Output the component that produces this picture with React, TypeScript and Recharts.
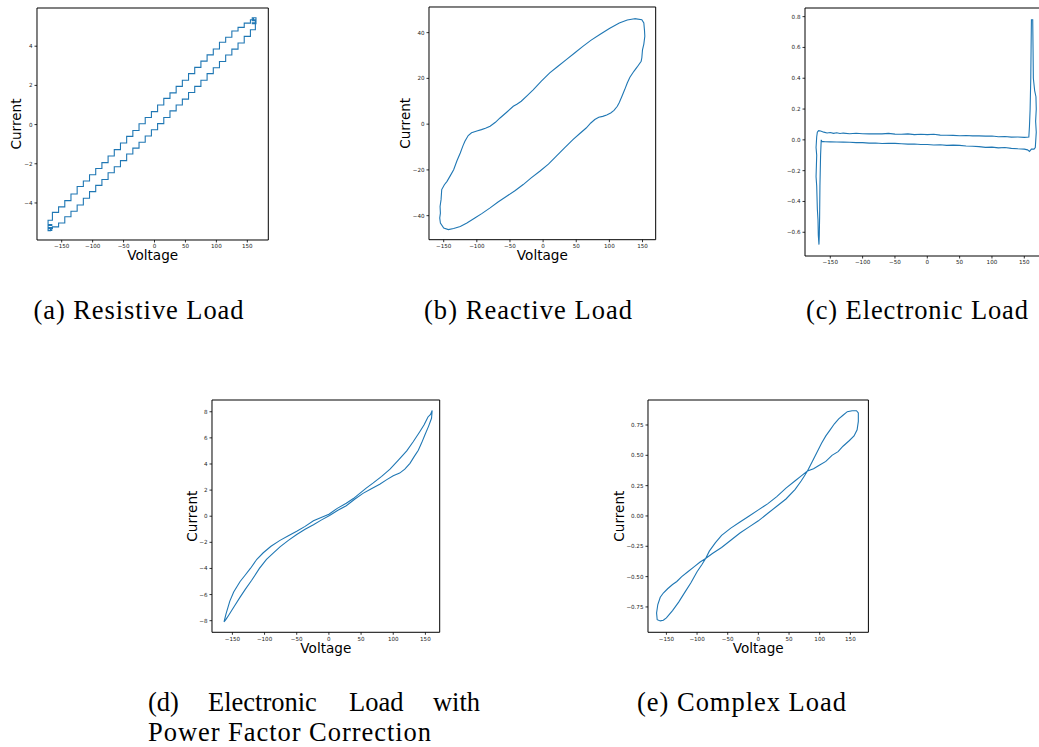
import React from 'react'
import { LineChart, Line, XAxis, YAxis, ReferenceArea } from 'recharts'

type Pt = [number, number] // [voltage, current]

const voltageTicks = [-150, -100, -50, 0, 50, 100, 150]

// (a) resistive load: two stepped branches and the jitter blobs at the ends
const resistiveRise: Pt[] = [
    [-172, -5.3], [-165, -5.22], [-155, -5.02], [-145, -4.7], [-135, -4.42], [-125, -4.1],
    [-115, -3.76], [-105, -3.42], [-95, -3.1], [-85, -2.8], [-75, -2.46], [-65, -2.15],
    [-55, -1.84], [-45, -1.5], [-35, -1.2], [-25, -0.9], [-15, -0.58], [-5, -0.26],
    [5, 0.05], [15, 0.36], [25, 0.7], [35, 1.0], [45, 1.3], [55, 1.64], [65, 1.95],
    [75, 2.26], [85, 2.6], [95, 2.9], [105, 3.22], [115, 3.55], [125, 3.85], [135, 4.16],
    [145, 4.5], [155, 4.84], [163, 5.3],
]
const resistiveTopCap: Pt[] = [[158, 5.45], [164, 5.15], [158, 5.2], [164, 5.45], [160, 5.3]]
const resistiveFall: Pt[] = [
    [163, 5.35], [155, 5.18], [145, 4.96], [135, 4.78], [125, 4.46], [115, 4.2],
    [105, 3.86], [95, 3.56], [85, 3.24], [75, 2.92], [65, 2.6], [55, 2.26], [45, 1.95],
    [35, 1.62], [25, 1.34], [15, 1.0], [5, 0.66], [-5, 0.36], [-15, 0.04], [-25, -0.3],
    [-35, -0.6], [-45, -0.94], [-55, -1.28], [-65, -1.6], [-75, -1.94], [-85, -2.24],
    [-95, -2.56], [-105, -2.88], [-115, -3.16], [-125, -3.54], [-135, -3.88], [-145, -4.2],
    [-155, -4.48], [-165, -4.88], [-172, -5.25],
]
const resistiveBottomCap: Pt[] = [[-166, -5.4], [-172, -5.1], [-166, -5.15], [-172, -5.42], [-168, -5.3]]
const resistiveTicks = [-4, -2, 0, 2, 4]

// (b) reactive load
const reactiveLoop: Pt[] = [
    [138, 46.1], [149, 45.6], [152, 44.2], [153, 41], [153.5, 38.4], [152, 35], [150, 32.5],
    [149, 29], [148, 27.5], [142, 25], [137, 23.1], [131, 20.5], [127, 18], [123, 15],
    [119, 12.2], [115, 9.5], [112, 7.8], [107, 6], [102, 4.9], [96, 4], [90, 3.4], [84, 3],
    [78, 2], [72, 0.5], [65, -1.7], [55, -4.2], [45, -6.8], [32, -10.5], [20, -14],
    [8, -17.5], [-5, -20.6], [-18, -23.5], [-30, -26.4], [-42, -29], [-55, -31.5],
    [-68, -34], [-80, -36.6], [-92, -39], [-103, -41], [-115, -43.2], [-125, -44.7],
    [-135, -45.6], [-143, -46.1], [-150, -45.4], [-155, -43.2], [-156, -41], [-155, -38.9],
    [-155.5, -36], [-154, -33], [-153, -28.6], [-149, -26.5], [-145, -25], [-140, -22.5],
    [-135, -19.9], [-130, -16], [-125, -12.6], [-121, -9.5], [-118, -7.5], [-113, -5],
    [-108, -3.8], [-100, -3], [-93, -2.4], [-87, -1.8], [-80, -0.9], [-72, 0.8], [-65, 2.7],
    [-55, 5.2], [-45, 7.8], [-39, 8.8], [-33, 10], [-24, 12.5], [-15, 15], [-3, 18.7],
    [10, 22.4], [22, 25.2], [35, 28.2], [48, 31.2], [60, 34], [72, 36.6], [85, 39.1],
    [100, 41.8], [115, 44.2], [127, 45.5], [138, 46.1],
]
const reactiveTicks = [-40, -20, 0, 20, 40]

// (c) electronic load
const electronicLoop: Pt[] = [
    [-170, 0.05], [-168, 0.06], [-165, 0.058], [-160, 0.05], [-155, 0.045], [-150, 0.048],
    [-145, 0.042], [-140, 0.046], [-135, 0.041], [-130, 0.044], [-120, 0.04], [-110, 0.043],
    [-100, 0.04], [-90, 0.039], [-80, 0.04], [-70, 0.039], [-60, 0.042], [-50, 0.037],
    [-40, 0.036], [-30, 0.039], [-20, 0.034], [-10, 0.036], [0, 0.034], [10, 0.036],
    [20, 0.031], [30, 0.03], [40, 0.029], [50, 0.027], [60, 0.028], [70, 0.026], [80, 0.026],
    [90, 0.024], [100, 0.025], [110, 0.02], [120, 0.022], [130, 0.018], [140, 0.019],
    [150, 0.016], [157, 0.018], [158, 0.09], [159, 0.2], [160, 0.4], [160.5, 0.6], [161, 0.78],
    [163, 0.78], [163.5, 0.6], [164, 0.4], [166, 0.32], [168, 0.28], [168.5, 0.2], [167.5, 0.12],
    [168.5, 0.05], [167, -0.05], [165, -0.06], [161, -0.06], [158, -0.075], [155, -0.065],
    [150, -0.06], [140, -0.058], [130, -0.055], [120, -0.05], [110, -0.052], [100, -0.047],
    [90, -0.049], [80, -0.044], [70, -0.042], [60, -0.04], [50, -0.036], [40, -0.034],
    [30, -0.036], [20, -0.032], [10, -0.033], [0, -0.03], [-10, -0.03], [-20, -0.027],
    [-30, -0.028], [-40, -0.025], [-50, -0.023], [-60, -0.022], [-70, -0.024], [-80, -0.02],
    [-90, -0.021], [-100, -0.018], [-110, -0.018], [-120, -0.016], [-130, -0.015],
    [-140, -0.014], [-150, -0.013], [-158, -0.012], [-163, -0.01], [-164, 0.0], [-165, -0.1],
    [-166, -0.3], [-166.5, -0.5], [-167, -0.62], [-167.5, -0.68], [-168.5, -0.62],
    [-169, -0.52], [-170, -0.45], [-171, -0.3], [-172, -0.24], [-171, -0.1], [-172, -0.05],
    [-171, 0.02], [-170, 0.05],
]
const electronicTicks = [-0.6, -0.4, -0.2, 0, 0.2, 0.4, 0.6, 0.8]

// (d) electronic load with PFC
const pfcRise: Pt[] = [
    [-163, -8.1], [-160, -7.5], [-157, -7.0], [-154, -6.5], [-148, -5.8], [-143, -5.4],
    [-138, -5.0], [-130, -4.5], [-122, -4.0], [-112, -3.3], [-102, -2.8], [-90, -2.3],
    [-76, -1.85], [-63, -1.5], [-50, -1.15], [-37, -0.78], [-24, -0.35], [-12, -0.1],
    [0, 0.15], [13, 0.6], [27, 1.0], [38, 1.35], [48, 1.75], [58, 2.15], [69, 2.55],
    [82, 3.05], [95, 3.6], [108, 4.3], [121, 5.0], [131, 5.7], [141, 6.45], [148, 7.0],
    [154, 7.6], [158, 7.8], [160.5, 8.1],
]
const pfcFall: Pt[] = [
    [160.5, 8.1], [159.5, 7.5], [155, 6.9], [149, 6.2], [144, 5.6], [139, 5.05], [133, 4.6],
    [126, 4.05], [118, 3.6], [110, 3.3], [100, 3.1], [90, 2.8], [79, 2.45], [66, 2.1],
    [53, 1.75], [40, 1.3], [27, 0.8], [14, 0.45], [1, 0.05], [-12, -0.3], [-24, -0.65],
    [-37, -1.0], [-50, -1.4], [-63, -1.85], [-76, -2.35], [-87, -2.85], [-97, -3.3],
    [-108, -4.0], [-120, -4.9], [-130, -5.6], [-138, -6.2], [-147, -6.9], [-156, -7.6],
    [-160, -7.9], [-163, -8.1],
]
const pfcTicks = [-8, -6, -4, -2, 0, 2, 4, 6, 8]

// (e) complex load, figure-eight
const complexLoop: Pt[] = [
    [153, 0.868], [145, 0.86], [138, 0.83], [131, 0.8], [124, 0.76], [117, 0.71], [110, 0.66],
    [103, 0.6], [96, 0.53], [89, 0.46], [84, 0.41], [80, 0.37], [75, 0.33], [70, 0.29],
    [60, 0.22], [45, 0.14], [30, 0.08], [15, 0.02], [0, -0.04], [-15, -0.09], [-30, -0.14],
    [-45, -0.2], [-60, -0.26], [-75, -0.31], [-86, -0.35], [-95, -0.38], [-105, -0.42],
    [-115, -0.46], [-125, -0.5], [-133, -0.54], [-140, -0.565], [-148, -0.6], [-155, -0.635],
    [-160, -0.67], [-164, -0.73], [-166, -0.8], [-165, -0.855], [-160, -0.865], [-155, -0.86],
    [-150, -0.84], [-140, -0.78], [-130, -0.71], [-120, -0.63], [-110, -0.55], [-100, -0.46],
    [-92, -0.4], [-86, -0.35], [-80, -0.29], [-70, -0.22], [-60, -0.16], [-45, -0.1],
    [-30, -0.05], [-15, 0.0], [0, 0.05], [15, 0.1], [30, 0.16], [45, 0.23], [60, 0.29],
    [70, 0.33], [80, 0.37], [90, 0.39], [100, 0.42], [110, 0.45], [120, 0.5], [130, 0.53],
    [138, 0.575], [148, 0.62], [156, 0.66], [161, 0.71], [163, 0.78], [163, 0.85],
    [160, 0.868], [153, 0.868],
]
const complexTicks = [-0.75, -0.5, -0.25, 0, 0.25, 0.5, 0.75]

const BLUE = '#1f77b4'
const AXIS_W = 48
const AXIS_H = 24
const PAD = 5
const SANS = '"DejaVu Sans", sans-serif'

const minus = (s: string) => s.replace('-', '\u2212')

type PanelProps = {
    x: number
    y: number
    w: number
    h: number
    xDomain: [number, number]
    yDomain: [number, number]
    yTicks: number[]
    yDigits?: number
    points: Pt[]
    curve?: 'linear' | 'stepAfter'
    titleX?: number // page x of the "Current" title; no axis titles when undefined
}

function Panel({ x, y, w, h, xDomain, yDomain, yTicks, yDigits, points, curve = 'linear', titleX }: PanelProps) {
    const data = points.map(([v, i]) => ({ v, i }))
    const tickStyle = { fontSize: 5.6, fill: '#222', fontFamily: SANS }
    const tickLine = { stroke: '#000', strokeWidth: 0.8 }
    const chartLeft = x - AXIS_W
    const titles = titleX !== undefined

    return (
        <div style={{ position: 'absolute', left: chartLeft, top: y - PAD }}>
            <LineChart
                width={AXIS_W + w + PAD}
                height={PAD + h + AXIS_H}
                data={data}
                margin={{ top: PAD, right: PAD, bottom: 0, left: 0 }}
            >
                <XAxis
                    dataKey="v"
                    type="number"
                    domain={xDomain}
                    ticks={voltageTicks}
                    interval={0}
                    height={AXIS_H}
                    tickSize={2.5}
                    tickMargin={2}
                    axisLine={false}
                    tickLine={tickLine}
                    tick={tickStyle}
                    tickFormatter={(v: number) => minus(String(v))}
                    label={titles ? { value: 'Voltage', position: 'insideBottom', offset: 3.5, fontSize: 13.6, fill: '#000', fontFamily: SANS } : undefined}
                />
                <YAxis
                    type="number"
                    domain={yDomain}
                    ticks={yTicks}
                    interval={0}
                    width={AXIS_W}
                    tickSize={2.5}
                    tickMargin={2}
                    axisLine={false}
                    tickLine={tickLine}
                    tick={tickStyle}
                    tickFormatter={(v: number) => minus(yDigits ? v.toFixed(yDigits) : String(v))}
                    label={titles ? { value: 'Current', angle: -90, position: 'insideLeft', offset: titleX - chartLeft, fontSize: 13.6, fill: '#000', fontFamily: SANS, style: { textAnchor: 'middle' } } : undefined}
                />
                {/* axes frame */}
                <ReferenceArea
                    x1={xDomain[0]}
                    x2={xDomain[1]}
                    y1={yDomain[0]}
                    y2={yDomain[1]}
                    fill="none"
                    stroke="#000"
                    strokeWidth={1}
                    ifOverflow="visible"
                />
                <Line
                    dataKey="i"
                    type={curve}
                    stroke={BLUE}
                    strokeWidth={1.1}
                    dot={false}
                    activeDot={false}
                    isAnimationActive={false}
                />
            </LineChart>
        </div>
    )
}

const captionFont = { fontFamily: 'Liberation Serif, serif', fontSize: 26.5, fill: '#000' }

export default function App() {
    return (
        <div style={{ position: 'absolute', left: 0, top: 0, width: 1039, height: 747, overflow: 'hidden', background: '#fff' }}>
            <Panel
                x={37} y={8} w={231.3} h={232}
                xDomain={[-189.9, 183.9]} yDomain={[-5.89, 5.95]}
                yTicks={resistiveTicks}
                points={[...resistiveRise, ...resistiveTopCap, ...resistiveFall, ...resistiveBottomCap]}
                curve="stepAfter"
                titleX={16}
            />
            <Panel
                x={429.3} y={7.3} w={226.7} h={232.7}
                xDomain={[-172.2, 169.9]} yDomain={[-50.5, 51.2]}
                yTicks={reactiveTicks}
                points={reactiveLoop}
                titleX={405.7}
            />
            <Panel
                x={805} y={8} w={240} h={248}
                xDomain={[-189.1, 182]} yDomain={[-0.754, 0.856]}
                yTicks={electronicTicks} yDigits={1}
                points={electronicLoop}
            />
            <Panel
                x={212.3} y={400} w={227.7} h={232.3}
                xDomain={[-181.7, 172.2]} yDomain={[-8.89, 8.9]}
                yTicks={pfcTicks}
                points={[...pfcRise, ...pfcFall]}
                titleX={192}
            />
            <Panel
                x={648.3} y={400} w={220.4} h={232.3}
                xDomain={[-180, 179.4]} yDomain={[-0.959, 0.956]}
                yTicks={complexTicks} yDigits={2}
                points={complexLoop}
                titleX={619.2}
            />

            {/* sub-figure captions */}
            <svg width={1039} height={747} style={{ position: 'absolute', left: 0, top: 0, pointerEvents: 'none' }}>
                <text x={33.5} y={319} textLength={210} lengthAdjust="spacing" {...captionFont}>(a) Resistive Load</text>
                <text x={424} y={319} textLength={208} lengthAdjust="spacing" {...captionFont}>(b) Reactive Load</text>
                <text x={806} y={319} textLength={222} lengthAdjust="spacing" {...captionFont}>(c) Electronic Load</text>
                <text x={148} y={711} {...captionFont}>(d)</text>
                <text x={208} y={711} {...captionFont}>Electronic</text>
                <text x={349} y={711} {...captionFont}>Load</text>
                <text x={480} y={711} textAnchor="end" {...captionFont}>with</text>
                <text x={148} y={741} textLength={283} lengthAdjust="spacing" {...captionFont}>Power Factor Correction</text>
                <text x={637} y={711} textLength={209} lengthAdjust="spacing" {...captionFont}>(e) Complex Load</text>
            </svg>
        </div>
    )
}
